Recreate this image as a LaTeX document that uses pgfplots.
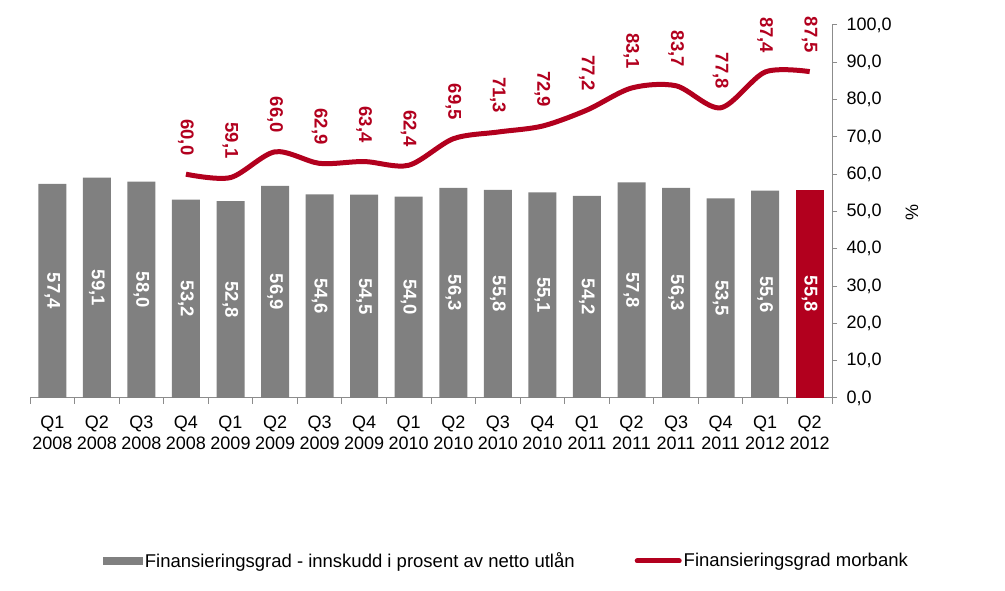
\documentclass[border=0pt]{standalone}
\usepackage{fontspec}
\setmainfont{Liberation Sans}
\usepackage{pgfplots}
\pgfplotsset{compat=1.18}
\usepackage{pgfplotstable}
\definecolor{barg}{HTML}{808080}
\definecolor{dred}{HTML}{B2001E}
\definecolor{axg}{HTML}{8C8C8C}

\pgfplotstableread{
x v
0 57.4
1 59.1
2 58.0
3 53.2
4 52.8
5 56.9
6 54.6
7 54.5
8 54.0
9 56.3
10 55.8
11 55.1
12 54.2
13 57.8
14 56.3
15 53.5
16 55.6
}\bars
\pgfplotstableread{
x v
17 55.8
}\lastbar
\pgfplotstableread{
x v
0 57.4
1 59.1
2 58.0
3 53.2
4 52.8
5 56.9
6 54.6
7 54.5
8 54.0
9 56.3
10 55.8
11 55.1
12 54.2
13 57.8
14 56.3
15 53.5
16 55.6
17 55.8
}\allbars
\pgfplotstableread{
x v
3 60.0
4 59.1
5 66.0
6 62.9
7 63.4
8 62.4
9 69.5
10 71.3
11 72.9
12 77.2
13 83.1
14 83.7
15 77.8
16 87.4
17 87.5
}\morbank

\begin{document}
\begin{tikzpicture}[x=1pt,y=1pt]
\useasboundingbox (0,0) rectangle (1005,591);
\begin{axis}[
  at={(30pt,193pt)}, anchor=south west,
  scale only axis, width=802pt, height=373pt,
  xmin=-0.5, xmax=17.5, ymin=0, ymax=100,
  clip=false,
  axis x line*=bottom, axis y line*=right,
  axis line style={axg, line width=1pt},
  tick align=outside,
  xtick={0,...,17},
  xticklabels={{Q1\\2008},{Q2\\2008},{Q3\\2008},{Q4\\2008},{Q1\\2009},{Q2\\2009},{Q3\\2009},{Q4\\2009},{Q1\\2010},{Q2\\2010},{Q3\\2010},{Q4\\2010},{Q1\\2011},{Q2\\2011},{Q3\\2011},{Q4\\2011},{Q1\\2012},{Q2\\2012}},
  xticklabel style={align=center, font=\fontsize{18}{21.5}\selectfont, yshift=-9pt},
  major x tick style={draw=none},
  minor xtick={-0.5,0.5,...,17.5},
  minor x tick style={axg, line width=1pt},
  minor tick length=6pt,
  ytick={0,10,...,100},
  major y tick style={axg, line width=1pt},
  major tick length=5pt,
  yticklabel style={font=\fontsize{18}{22}\selectfont, anchor=west, xshift=6pt},
  /pgf/number format/.cd, fixed, fixed zerofill, precision=1, use comma, assume math mode=true,
  /pgfplots/.cd,
  legend style={at={(0.594,-0.437)}, anchor=center, draw=none, legend columns=2,
    font=\fontsize{18.5}{22}\selectfont,
    /tikz/every even column/.append style={column sep=58pt}},
]
\addplot[ybar, bar width=28pt, fill=barg, draw=none,
  legend image code/.code={\fill[barg] (-2pt,-4pt) rectangle (38pt,4pt);}]
  table[x=x,y=v]{\bars};
\addlegendentry{Finansieringsgrad - innskudd i prosent av netto utlån}
\addplot[ybar, bar width=28pt, fill=dred, draw=none, forget plot]
  table[x=x,y=v]{\lastbar};
\addplot[draw=none, forget plot, nodes near coords, point meta=\thisrow{v},
  nodes near coords style={text=white, font=\fontsize{18.5}{22}\selectfont\bfseries, rotate=-90, anchor=center}]
  table[x=x, y expr=\thisrow{v}/2]{\allbars};
\addplot[dred, line width=5pt, smooth, tension=0.5, nodes near coords, point meta=\thisrow{v},
  nodes near coords style={text=dred, font=\fontsize{18.5}{22}\selectfont\bfseries, yshift=13pt, rotate=-90, anchor=east},
  legend image code/.code={\draw[dred, line width=5pt, line cap=round] (2pt,0pt) -- (44pt,0pt);}]
  table[x=x,y=v]{\morbank};
\addlegendentry{Finansieringsgrad morbank}
\end{axis}
\node[rotate=90, font=\fontsize{18}{22}\selectfont] at (912pt,378pt) {\%};
\end{tikzpicture}
\end{document}
